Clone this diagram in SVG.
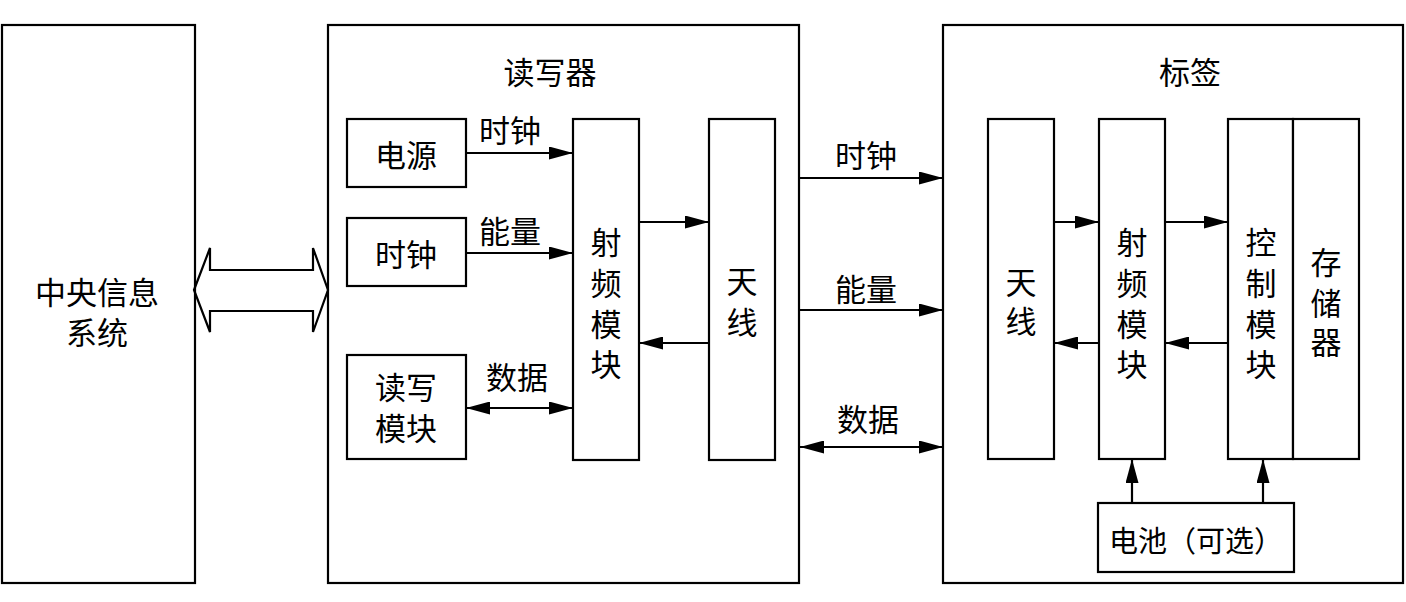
<svg xmlns="http://www.w3.org/2000/svg" width="1406" height="602" viewBox="0 0 1406 602">
<style>
.b{fill:#fff;stroke:#000;stroke-width:2.2}
.l{stroke:#000;stroke-width:2.2;fill:none}
.t{font-family:"Noto Sans CJK SC","Noto Sans CJK TC",sans-serif;font-size:31px;fill:#000;text-anchor:middle;dominant-baseline:central}
</style>
<defs>
<marker id="ah" viewBox="0 0 24 13" refX="24" refY="6.5" markerWidth="24" markerHeight="13" markerUnits="userSpaceOnUse" orient="auto-start-reverse">
<path d="M0,0 L24,6.5 L0,13 Z" fill="#000"/>
</marker>
</defs>
<rect width="1406" height="602" fill="#fff"/>
<g id="central">
<rect class="b" x="2" y="25" width="193" height="558"/>
<text class="t"><tspan x="97" y="290">中央信息</tspan><tspan x="97" y="330">系统</tspan></text>
</g>
<g id="reader">
<rect class="b" x="328" y="25" width="471" height="558"/>
<text class="t" x="550" y="70">读写器</text>
</g>
<g id="tag">
<rect class="b" x="943" y="25" width="460" height="558"/>
<text class="t" x="1190" y="70">标签</text>
</g>
<g id="power">
<rect class="b" x="347" y="119" width="119" height="68"/>
<text class="t" x="406" y="153">电源</text>
</g>
<g id="clock">
<rect class="b" x="347" y="218" width="119" height="68"/>
<text class="t" x="406" y="252">时钟</text>
</g>
<g id="rwmodule">
<rect class="b" x="347" y="355" width="119" height="104"/>
<text class="t"><tspan x="406" y="385">读写</tspan><tspan x="406" y="426">模块</tspan></text>
</g>
<g id="reader-rf">
<rect class="b" x="573" y="119" width="66" height="341"/>
<text class="t"><tspan x="606" y="240">射</tspan><tspan x="606" y="281">频</tspan><tspan x="606" y="322">模</tspan><tspan x="606" y="362">块</tspan></text>
</g>
<g id="reader-antenna">
<rect class="b" x="709" y="119" width="66" height="341"/>
<text class="t"><tspan x="742" y="279">天</tspan><tspan x="742" y="320">线</tspan></text>
</g>
<g id="tag-antenna">
<rect class="b" x="988" y="119" width="66" height="340"/>
<text class="t"><tspan x="1021" y="280">天</tspan><tspan x="1021" y="319">线</tspan></text>
</g>
<g id="tag-rf">
<rect class="b" x="1099" y="119" width="66" height="340"/>
<text class="t"><tspan x="1132" y="240">射</tspan><tspan x="1132" y="281">频</tspan><tspan x="1132" y="322">模</tspan><tspan x="1132" y="362">块</tspan></text>
</g>
<g id="control">
<rect class="b" x="1228" y="119" width="65" height="340"/>
<text class="t"><tspan x="1261" y="240">控</tspan><tspan x="1261" y="281">制</tspan><tspan x="1261" y="322">模</tspan><tspan x="1261" y="362">块</tspan></text>
</g>
<g id="storage">
<rect class="b" x="1293" y="119" width="66" height="340"/>
<text class="t"><tspan x="1326" y="260">存</tspan><tspan x="1326" y="301">储</tspan><tspan x="1326" y="340">器</tspan></text>
</g>
<g id="battery">
<rect class="b" x="1098" y="503" width="196" height="69"/>
<text class="t" x="1196" y="539" style="font-size:29px">电池（可选）</text>
</g>
<g id="connectors">
<path class="l" d="M194,290 L210,248 L210,270 L313,270 L313,248 L328,290 L313,332 L313,311 L210,311 L210,332 Z" fill="#fff"/>
<line class="l" x1="466" y1="153" x2="573" y2="153" marker-end="url(#ah)"/>
<line class="l" x1="466" y1="253" x2="573" y2="253" marker-end="url(#ah)"/>
<line class="l" x1="466" y1="408" x2="573" y2="408" marker-start="url(#ah)" marker-end="url(#ah)"/>
<line class="l" x1="639" y1="222" x2="709" y2="222" marker-end="url(#ah)"/>
<line class="l" x1="709" y1="343" x2="639" y2="343" marker-end="url(#ah)"/>
<line class="l" x1="800" y1="178" x2="943" y2="178" marker-end="url(#ah)"/>
<line class="l" x1="800" y1="310" x2="943" y2="310" marker-end="url(#ah)"/>
<line class="l" x1="800" y1="447" x2="943" y2="447" marker-start="url(#ah)" marker-end="url(#ah)"/>
<line class="l" x1="1054" y1="222" x2="1099" y2="222" marker-end="url(#ah)"/>
<line class="l" x1="1099" y1="343" x2="1054" y2="343" marker-end="url(#ah)"/>
<line class="l" x1="1165" y1="222" x2="1228" y2="222" marker-end="url(#ah)"/>
<line class="l" x1="1228" y1="343" x2="1165" y2="343" marker-end="url(#ah)"/>
<line class="l" x1="1132" y1="503" x2="1132" y2="459" marker-end="url(#ah)"/>
<line class="l" x1="1263" y1="503" x2="1263" y2="459" marker-end="url(#ah)"/>
<text class="t" x="510" y="128">时钟</text>
<text class="t" x="510" y="229">能量</text>
<text class="t" x="517" y="375">数据</text>
<text class="t" x="866" y="153">时钟</text>
<text class="t" x="866" y="287">能量</text>
<text class="t" x="868" y="417">数据</text>
</g>
</svg>
